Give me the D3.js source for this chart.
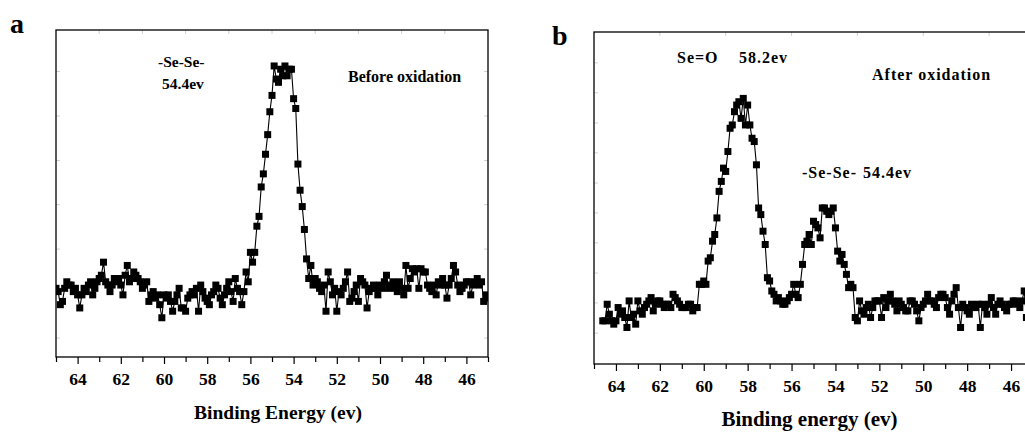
<!DOCTYPE html>
<html>
<head>
<meta charset="utf-8">
<script src="https://cdn.jsdelivr.net/npm/d3@7"></script>
<style>
body { margin: 0; background: #fff; }
svg { display: block; font-family: "Liberation Serif", "Times New Roman", serif; font-weight: bold; }
</style>
</head>
<body>
<div id="chart"></div>
<script>
// panel a: Se 3d before oxidation, 0.1 eV steps from 65.0 eV
const startA = 65.0;
const intensityA = [
  21, 20, 16, 17, 21, 23, 22, 22, 20, 21,   // 65.0 - 64.1
  19, 15, 19, 21, 20, 22, 23, 19, 21, 23,   // 64.0 - 63.1
  24, 25, 29, 23, 22, 20, 22, 24, 23, 24,   // 63.0 - 62.1
  22, 19, 25, 28, 23, 24, 26, 25, 24, 23,   // 62.0 - 61.1
  21, 22, 23, 17, 19, 20, 18, 19, 16, 12,   // 61.0 - 60.1
  19, 18, 19, 17, 14, 17, 19, 21, 15, 15,   // 60.0 - 59.1
  14, 18, 19, 20, 19, 21, 14, 22, 20, 18,   // 59.0 - 58.1
  17, 16, 19, 20, 22, 21, 18, 16, 19, 21,   // 58.0 - 57.1
  23, 20, 17, 24, 21, 20, 16, 20, 26, 23,   // 57.0 - 56.1
  32, 29, 32, 40, 43, 52, 56, 62, 68, 75,   // 56.0 - 55.1
  80, 89, 85, 84, 88, 86, 89, 86, 88, 88,   // 55.0 - 54.1
  79, 76, 59, 51, 46, 39, 30, 24, 28, 22,   // 54.0 - 53.1
  24, 23, 21, 20, 22, 14, 26, 23, 19, 21,   // 53.0 - 52.1
  14, 20, 19, 21, 23, 26, 17, 18, 20, 22,   // 52.0 - 51.1
  17, 24, 23, 22, 15, 20, 21, 22, 21, 19,   // 51.0 - 50.1
  22, 21, 23, 25, 21, 22, 23, 21, 20, 23,   // 50.0 - 49.1
  21, 19, 28, 21, 24, 27, 26, 27, 21, 27,   // 49.0 - 48.1
  26, 26, 22, 21, 20, 22, 19, 23, 22, 24,   // 48.0 - 47.1
  22, 18, 22, 24, 28, 26, 22, 20, 21, 22,   // 47.0 - 46.1
  23, 23, 19, 22, 23, 24, 22, 23, 17, 19, 18 // 46.0 - 45.0
];

// panel b: after oxidation, 0.1 eV steps from 64.6 eV
const startB = 64.6;
const intensityB = [
  13, 13, 18, 15, 13, 12, 13, 17, 15, 16,   // 64.6 - 63.7
  14, 11, 19, 14, 15, 12, 19, 16, 15, 17,   // 63.6 - 62.7
  18, 19, 20, 16, 18, 19, 19, 18, 17, 18,   // 62.6 - 61.7
  18, 17, 21, 20, 19, 18, 17, 17, 17, 18,   // 61.6 - 60.7
  18, 16, 17, 17, 24, 24, 25, 24, 31, 32,   // 60.6 - 59.7
  37, 39, 44, 52, 55, 59, 58, 64, 71, 72,   // 59.6 - 58.7
  76, 78, 79, 74, 80, 72, 78, 72, 68, 67,   // 58.6 - 57.7
  60, 47, 45, 40, 36, 26, 25, 22, 21, 19,   // 57.6 - 56.7
  20, 19, 18, 18, 19, 20, 21, 24, 21, 20,   // 56.6 - 55.7
  24, 30, 36, 37, 39, 36, 43, 42, 41, 38,   // 55.6 - 54.7
  47, 47, 46, 45, 46, 47, 41, 34, 31, 33,   // 54.6 - 53.7
  30, 27, 23, 24, 23, 14, 13, 19, 16, 15,   // 53.6 - 52.7
  17, 18, 14, 17, 19, 19, 19, 14, 20, 17,   // 52.6 - 51.7
  19, 21, 19, 18, 16, 19, 18, 17, 16, 16,   // 51.6 - 50.7
  19, 19, 18, 16, 13, 17, 18, 19, 21, 19,   // 50.6 - 49.7
  19, 18, 17, 20, 21, 21, 20, 17, 15, 19,   // 49.6 - 48.7
  21, 23, 17, 11, 18, 17, 16, 15, 18, 17,   // 48.6 - 47.7
  17, 18, 11, 18, 17, 15, 18, 20, 17, 15,   // 47.6 - 46.7
  18, 19, 18, 17, 16, 18, 18, 19, 19, 18,   // 46.6 - 45.7
  17, 19, 22, 14, 18, 19, 18                // 45.6 - 45.0
];

const xMajorTicks = [64, 62, 60, 58, 56, 54, 52, 50, 48, 46];
const xMinorTicks = [65, 63, 61, 59, 57, 55, 53, 51, 49, 47, 45];
const topTicksA = [63, 61, 59, 57, 55, 53, 51, 49, 47];
const topTicksB = [62, 59, 56, 53, 50, 47];
const yTicksA = [5.8, 19.4, 33, 46.6, 60.1, 73.7, 87.3];
const yTicksB = [9.3, 18.4, 27.4, 36.5, 45.5, 54.5, 63.6, 72.6, 81.7, 90.7];

const width = 1025, height = 433;

const svg = d3.select("#chart").append("svg")
    .attr("width", width)
    .attr("height", height)
    .attr("viewBox", [0, 0, width, height]);

svg.append("rect").attr("width", width).attr("height", height).attr("fill", "#fff");

function panel(opts) {
    const { box, start, values, letter, title, topTicks, yTicks, titleSize } = opts;
    const data = values.map((v, i) => ({ e: +(start - i * 0.1).toFixed(1), v }));

    const x = d3.scaleLinear().domain([65, 45]).range([box.left, box.right]);
    const y = d3.scaleLinear().domain([0, 100]).range([box.bottom, box.top]);

    const g = svg.append("g");

    const clipId = "clip-" + letter;
    g.append("clipPath").attr("id", clipId)
        .append("rect")
        .attr("x", box.left).attr("y", box.top)
        .attr("width", box.right - box.left).attr("height", box.bottom - box.top);

    // faint inner ticks (left, right, top)
    const faint = g.append("g").attr("stroke", "#c4c4c4").attr("stroke-width", 0.8);
    yTicks.forEach(t => {
        faint.append("line").attr("x1", box.left).attr("x2", box.left + 4)
            .attr("y1", y(t)).attr("y2", y(t));
        faint.append("line").attr("x1", box.right).attr("x2", box.right - 4)
            .attr("y1", y(t)).attr("y2", y(t));
    });
    topTicks.forEach(t => {
        faint.append("line").attr("x1", x(t)).attr("x2", x(t))
            .attr("y1", box.top).attr("y2", box.top + 4);
    });

    // frame
    g.append("rect")
        .attr("x", box.left).attr("y", box.top)
        .attr("width", box.right - box.left).attr("height", box.bottom - box.top)
        .attr("fill", "none").attr("stroke", "#000").attr("stroke-width", 1.3);

    // bottom axis
    g.append("g")
        .attr("transform", `translate(0,${box.bottom})`)
        .call(d3.axisBottom(x).tickValues(xMinorTicks).tickSize(5).tickFormat(""))
        .call(a => a.select(".domain").remove())
        .call(a => a.selectAll("line").attr("stroke-width", 1.2));

    g.append("g")
        .attr("transform", `translate(0,${box.bottom})`)
        .call(d3.axisBottom(x).tickValues(xMajorTicks).tickSize(7).tickPadding(9))
        .call(a => a.select(".domain").remove())
        .call(a => a.selectAll("line").attr("stroke-width", 1.2))
        .call(a => a.selectAll("text")
            .attr("font-family", "'Liberation Serif', serif")
            .attr("font-weight", "bold")
            .attr("font-size", 17.5)
            .attr("fill", "#000"));

    // data
    const line = d3.line().x(d => x(d.e)).y(d => y(d.v));
    const plot = g.append("g").attr("clip-path", `url(#${clipId})`);
    plot.append("path")
        .datum(data)
        .attr("d", line)
        .attr("fill", "none")
        .attr("stroke", "#000")
        .attr("stroke-width", 1.1);

    const s = 7;
    plot.selectAll("rect.pt")
        .data(data)
        .join("rect")
        .attr("class", "pt")
        .attr("x", d => x(d.e) - s / 2)
        .attr("y", d => y(d.v) - s / 2)
        .attr("width", s)
        .attr("height", s)
        .attr("fill", "#000");

    // axis title
    g.append("text")
        .attr("x", (box.left + Math.min(box.right, width)) / 2 + opts.titleShift)
        .attr("y", opts.titleY)
        .attr("text-anchor", "middle")
        .attr("font-size", titleSize)
        .text(title);

    // panel letter
    g.append("text")
        .attr("x", opts.letterX).attr("y", opts.letterY)
        .attr("font-size", 28)
        .text(letter);

    return { g, x, y };
}

const a = panel({
    box: { left: 56, top: 30, right: 488, bottom: 357 },
    start: startA, values: intensityA, letter: "a",
    title: "Binding Energy (ev)", titleSize: 19.5, titleY: 419, titleShift: 6,
    topTicks: topTicksA, yTicks: yTicksA,
    letterX: 10, letterY: 33
});

const b = panel({
    box: { left: 594, top: 32, right: 1033, bottom: 364 },
    start: startB, values: intensityB, letter: "b",
    title: "Binding energy (ev)", titleSize: 21, titleY: 426, titleShift: 0,
    topTicks: topTicksB, yTicks: yTicksB,
    letterX: 552, letterY: 45
});

// annotations
function note(x, y, txt, size, spacing) {
    svg.append("text")
        .attr("x", x).attr("y", y)
        .attr("font-size", size)
        .attr("letter-spacing", spacing || 0)
        .text(txt);
}

note(158, 67, "-Se-Se-", 15.5);
note(162, 89, "54.4ev", 15.5);
note(348, 82, "Before oxidation", 16);

note(677, 63, "Se=O", 16, 1);
note(739, 63, "58.2ev", 16, 1);
note(872, 80, "After oxidation", 16, 1);
note(802, 178, "-Se-Se-", 16, 1);
note(863, 178, "54.4ev", 16, 1);
</script>
</body>
</html>
